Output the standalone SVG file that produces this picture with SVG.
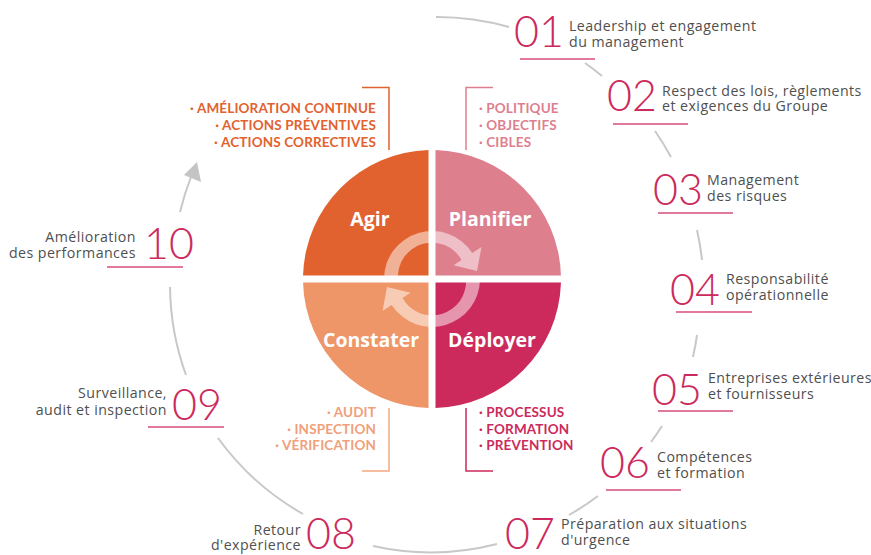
<svg xmlns="http://www.w3.org/2000/svg" width="871" height="555" viewBox="0 0 871 555">
<style>
.num{font-family:Lato,"Liberation Sans",sans-serif;font-weight:300;font-size:43px;fill:#CC2A5C}
.txt{font-family:"Open Sans","Liberation Sans",sans-serif;font-size:14.2px;letter-spacing:0.45px;fill:#4F4F4F}
.ul{stroke:#E0799A;stroke-width:1.8;fill:none}
.arc{stroke:#C8C8C8;stroke-width:2;fill:none}
.quad{font-family:"Open Sans","Liberation Sans",sans-serif;font-weight:700;font-size:19.5px;fill:#fff;text-anchor:middle}
.bul{font-family:Lato,"Liberation Sans",sans-serif;font-weight:700;font-size:13.5px;letter-spacing:0.15px}
.r{text-anchor:end}
</style>
<rect width="871" height="555" fill="#fff"/>

<g id="connectors">
<path class="arc" d="M436,17 A267,267 0 0 1 509,27"/>
<path class="arc" d="M585,63 A267,267 0 0 1 602,76"/>
<path class="arc" d="M655,131 A267,267 0 0 1 671,157"/>
<path class="arc" d="M697,230 A267,267 0 0 1 702,260"/>
<path class="arc" d="M697,335 A267,267 0 0 1 693,357"/>
<path class="arc" d="M662,426 A267,267 0 0 1 651,442"/>
<path class="arc" d="M598,496 A267,267 0 0 1 569,515"/>
<path class="arc" d="M497,544 A267,267 0 0 1 373,546"/>
<path class="arc" d="M303,514 A267,267 0 0 1 218,438"/>
<path class="arc" d="M186,375 A267,267 0 0 1 170,287"/>
<path class="arc" d="M180,212 A267,267 0 0 1 191,177"/>
<polygon points="197,162 184,175 201,182" fill="#C4C4C4"/>
</g>

<g id="pdca">
<path id="q-agir" d="M428.5,275.5 V150.05 A129,129 0 0 0 303.05,275.5 Z" fill="#E2622F"/>
<path id="q-planifier" d="M435.5,275.5 V150.05 A129,129 0 0 1 560.95,275.5 Z" fill="#DE7F8E"/>
<path id="q-constater" d="M428.5,282.5 H303.05 A129,129 0 0 0 428.5,407.95 Z" fill="#EE9668"/>
<path id="q-deployer" d="M435.5,282.5 V407.95 A129,129 0 0 0 560.95,282.5 Z" fill="#CC2A5C"/>
<g fill="#fff" fill-opacity="0.5">
<path d="M384,279 A48,48 0 0 1 472.3,253 L481.5,247 L477,271 L453.5,265.2 L461.5,259.9 A34,34 0 0 0 398,279 Z"/>
<path d="M480,279 A48,48 0 0 1 391.7,305 L382.5,311 L387,287 L410.5,292.8 L402.5,298.1 A34,34 0 0 0 466,279 Z"/>
</g>
<text class="quad" x="370" y="226">Agir</text>
<text class="quad" x="490" y="226">Planifier</text>
<text class="quad" x="371" y="347">Constater</text>
<text class="quad" x="492" y="347">Déployer</text>
</g>

<g id="agir-list">
<path d="M362,87.5 H389 V150" stroke="#E2622F" stroke-width="1.5" fill="none"/>
<text class="bul r" fill="#E2622F"><tspan x="376" y="113">· AMÉLIORATION CONTINUE</tspan><tspan x="376" y="130">· ACTIONS PRÉVENTIVES</tspan><tspan x="376" y="147">· ACTIONS CORRECTIVES</tspan></text>
</g>
<g id="planifier-list">
<path d="M493,87.5 H466 V150" stroke="#DE7F8E" stroke-width="1.5" fill="none"/>
<text class="bul" fill="#DE7F8E"><tspan x="479" y="113">· POLITIQUE</tspan><tspan x="479" y="130">· OBJECTIFS</tspan><tspan x="479" y="147">· CIBLES</tspan></text>
</g>
<g id="constater-list">
<path d="M362,471 H389 V408" stroke="#F2A982" stroke-width="1.5" fill="none"/>
<text class="bul r" fill="#F0A07A"><tspan x="376" y="417">· AUDIT</tspan><tspan x="376" y="434">· INSPECTION</tspan><tspan x="376" y="450">· VÉRIFICATION</tspan></text>
</g>
<g id="deployer-list">
<path d="M493,471 H466 V408" stroke="#CC2A5C" stroke-width="1.5" fill="none"/>
<text class="bul" fill="#CC2A5C"><tspan x="479" y="417">· PROCESSUS</tspan><tspan x="479" y="434">· FORMATION</tspan><tspan x="479" y="450">· PRÉVENTION</tspan></text>
</g>

<g id="n01">
<text class="num" x="514" y="47">01</text>
<text class="txt"><tspan x="569" y="31">Leadership et engagement</tspan><tspan x="569" y="47">du management</tspan></text>
<line class="ul" x1="520" y1="59" x2="595" y2="59"/>
</g>
<g id="n02">
<text class="num" x="607" y="111">02</text>
<text class="txt"><tspan x="662" y="96">Respect des lois, règlements</tspan><tspan x="662" y="111">et exigences du Groupe</tspan></text>
<line class="ul" x1="613" y1="124" x2="688" y2="124"/>
</g>
<g id="n03">
<text class="num" x="653" y="205">03</text>
<text class="txt"><tspan x="707" y="185">Management</tspan><tspan x="707" y="201">des risques</tspan></text>
<line class="ul" x1="658" y1="213" x2="733" y2="213"/>
</g>
<g id="n04">
<text class="num" x="670" y="305">04</text>
<text class="txt"><tspan x="726" y="284">Responsabilité</tspan><tspan x="726" y="300">opérationnelle</tspan></text>
<line class="ul" x1="676" y1="312" x2="752" y2="312"/>
</g>
<g id="n05">
<text class="num" x="652" y="405">05</text>
<text class="txt"><tspan x="708" y="383">Entreprises extérieures</tspan><tspan x="708" y="399">et fournisseurs</tspan></text>
<line class="ul" x1="658" y1="411" x2="733" y2="411"/>
</g>
<g id="n06">
<text class="num" x="600" y="478">06</text>
<text class="txt"><tspan x="657" y="462">Compétences</tspan><tspan x="657" y="478">et formation</tspan></text>
<line class="ul" x1="606" y1="490" x2="681" y2="490"/>
</g>
<g id="n07">
<text class="num" x="505" y="549">07</text>
<text class="txt"><tspan x="561" y="529">Préparation aux situations</tspan><tspan x="561" y="545">d'urgence</tspan></text>
</g>
<g id="n08">
<text class="num" x="306" y="549">08</text>
<text class="txt r"><tspan x="301" y="535">Retour</tspan><tspan x="301" y="550">d'expérience</tspan></text>
</g>
<g id="n09">
<text class="num" x="172" y="420">09</text>
<text class="txt r"><tspan x="167" y="398">Surveillance,</tspan><tspan x="167" y="415">audit et inspection</tspan></text>
<line class="ul" x1="148" y1="427" x2="224" y2="427"/>
</g>
<g id="n10">
<text class="num" x="144" y="259">10</text>
<text class="txt r"><tspan x="136" y="242">Amélioration</tspan><tspan x="136" y="258">des performances</tspan></text>
<line class="ul" x1="107" y1="267" x2="183" y2="267"/>
</g>
</svg>
